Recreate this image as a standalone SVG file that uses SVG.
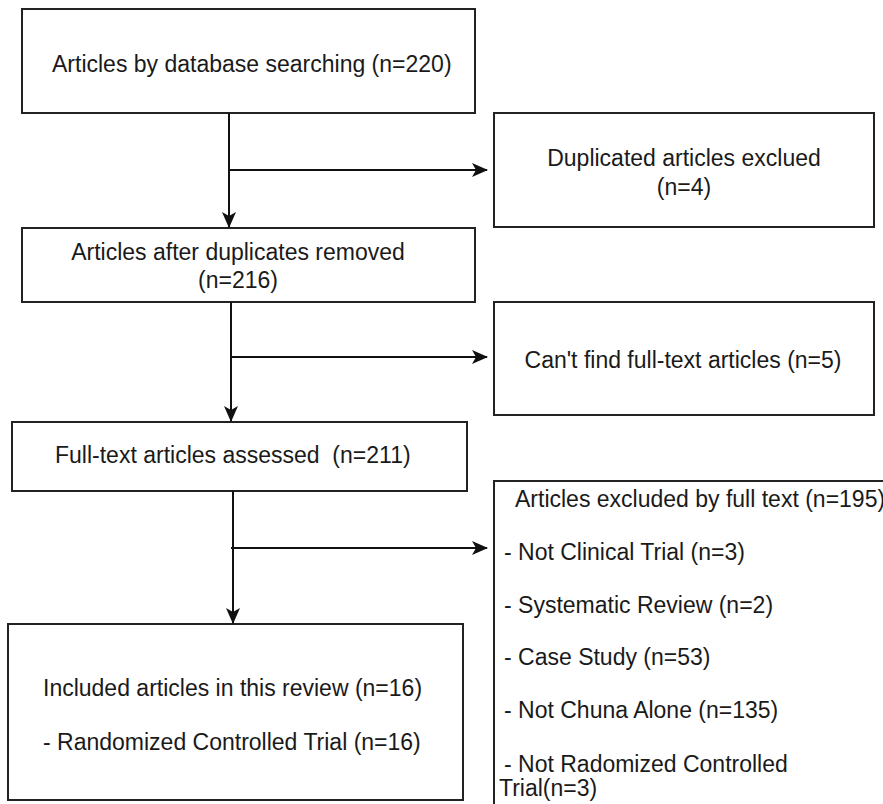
<svg xmlns="http://www.w3.org/2000/svg" width="883" height="804" viewBox="0 0 883 804">
<defs>
<marker id="ah" markerWidth="16" markerHeight="16" refX="15" refY="8" orient="auto" markerUnits="userSpaceOnUse">
<path d="M0,1 L16,8 L0,15 L4,8 Z" fill="#111"/>
</marker>
<style>
.box{fill:#fff;stroke:#222;stroke-width:2}
.t{font-family:"Liberation Sans",Arial,sans-serif;font-size:23px;fill:#1a1a1a}
.c{text-anchor:middle}
.ln{fill:none;stroke:#111;stroke-width:2}
</style>
</defs>
<rect width="883" height="804" fill="#fff"/>
<g id="n1"><rect class="box" x="22" y="9" width="453" height="104"/>
<text class="t" x="52" y="72">Articles by database searching (n=220)</text></g>
<g id="n2"><rect class="box" x="494" y="113" width="380" height="114"/>
<text class="t c" x="684" y="166">Duplicated articles exclued</text>
<text class="t c" x="684" y="195">(n=4)</text></g>
<g id="n3"><rect class="box" x="22" y="228" width="453" height="74"/>
<text class="t c" x="238" y="260">Articles after duplicates removed</text>
<text class="t c" x="238" y="288">(n=216)</text></g>
<g id="n4"><rect class="box" x="494" y="302" width="380" height="113"/>
<text class="t c" x="683" y="368">Can't find full-text articles (n=5)</text></g>
<g id="n5"><rect class="box" x="12" y="422" width="455" height="69"/>
<text class="t" x="55" y="463" xml:space="preserve">Full-text articles assessed  (n=211)</text></g>
<g id="n6"><rect class="box" x="8" y="624" width="455" height="176"/>
<text class="t" x="43" y="696">Included articles in this review (n=16)</text>
<text class="t" x="43" y="750">- Randomized Controlled Trial (n=16)</text></g>
<g id="n7"><rect class="box" x="494" y="481" width="400" height="340"/>
<text class="t" x="515" y="507">Articles excluded by full text (n=195)</text>
<text class="t" x="504" y="560">- Not Clinical Trial (n=3)</text>
<text class="t" x="504" y="613">- Systematic Review (n=2)</text>
<text class="t" x="504" y="665">- Case Study (n=53)</text>
<text class="t" x="504" y="718">- Not Chuna Alone (n=135)</text>
<text class="t" x="504" y="772">- Not Radomized Controlled</text>
<text class="t" x="499" y="796">Trial(n=3)</text></g>
<g id="connectors">
<path class="ln" d="M229,113 V227" marker-end="url(#ah)"/>
<path class="ln" d="M229,170 H487" marker-end="url(#ah)"/>
<path class="ln" d="M231,302 V421" marker-end="url(#ah)"/>
<path class="ln" d="M231,357 H487" marker-end="url(#ah)"/>
<path class="ln" d="M233,491 V623" marker-end="url(#ah)"/>
<path class="ln" d="M231,548 H487" marker-end="url(#ah)"/>
</g>
</svg>
